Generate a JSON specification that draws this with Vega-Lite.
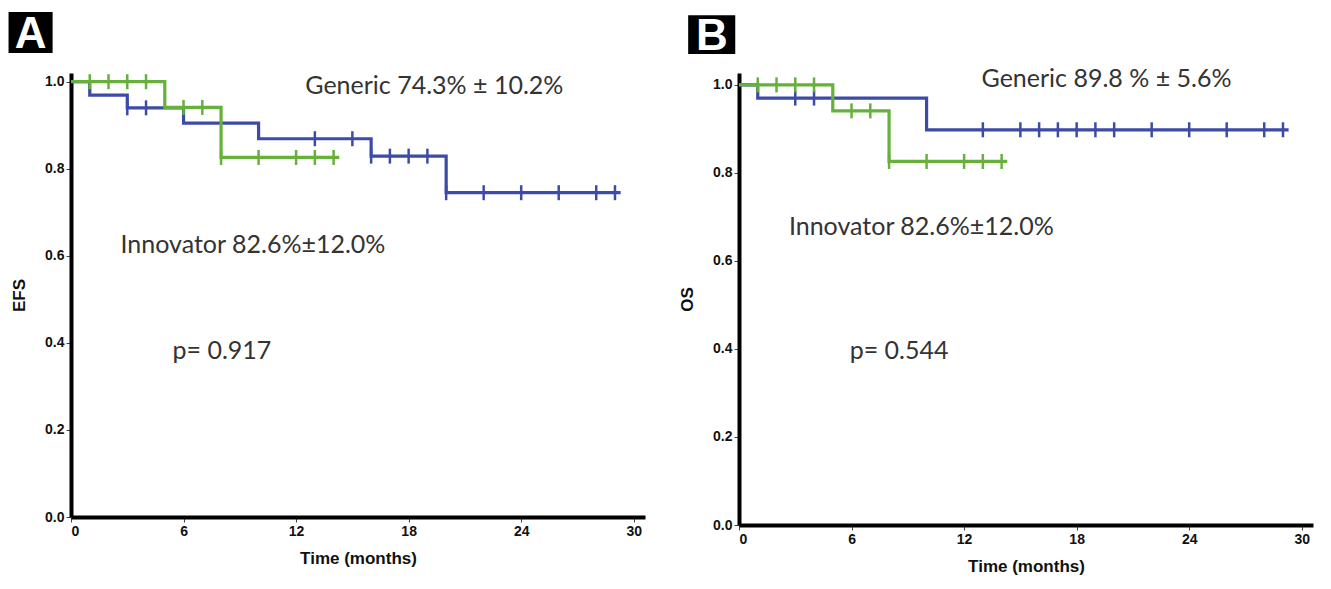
{
  "$schema": "https://vega.github.io/schema/vega-lite/v6.json",
  "background": "white",
  "padding": {"left": 8, "top": 12, "right": 5, "bottom": 5},
  "config": {
    "view": {"stroke": null},
    "font": "Liberation Sans",
    "axis": {"domainColor": "#000", "domainWidth": 4, "tickColor": "#444", "tickSize": 5, "tickWidth": 1, "labelFont": "Liberation Sans", "labelFontWeight": "bold", "labelFontSize": 14, "labelColor": "#111", "titleFont": "Liberation Sans", "titleFontWeight": "bold", "titleFontSize": 17, "titleColor": "#111", "grid": false},
    "concat": {"spacing": 33}
  },
  "datasets": {
    "km": [
      {"panel": "A", "group": "Generic", "kind": "step", "t": 0, "s": 1.0},
      {"panel": "A", "group": "Generic", "kind": "step", "t": 1, "s": 0.969},
      {"panel": "A", "group": "Generic", "kind": "step", "t": 3, "s": 0.94},
      {"panel": "A", "group": "Generic", "kind": "step", "t": 6, "s": 0.905},
      {"panel": "A", "group": "Generic", "kind": "step", "t": 10, "s": 0.869},
      {"panel": "A", "group": "Generic", "kind": "step", "t": 16, "s": 0.829},
      {"panel": "A", "group": "Generic", "kind": "step", "t": 20, "s": 0.745},
      {"panel": "A", "group": "Generic", "kind": "step", "t": 29.3, "s": 0.745},
      {"panel": "A", "group": "Generic", "kind": "censor", "t": 3, "s": 0.94},
      {"panel": "A", "group": "Generic", "kind": "censor", "t": 4, "s": 0.94},
      {"panel": "A", "group": "Generic", "kind": "censor", "t": 13, "s": 0.869},
      {"panel": "A", "group": "Generic", "kind": "censor", "t": 15, "s": 0.869},
      {"panel": "A", "group": "Generic", "kind": "censor", "t": 16, "s": 0.829},
      {"panel": "A", "group": "Generic", "kind": "censor", "t": 17, "s": 0.829},
      {"panel": "A", "group": "Generic", "kind": "censor", "t": 18, "s": 0.829},
      {"panel": "A", "group": "Generic", "kind": "censor", "t": 19, "s": 0.829},
      {"panel": "A", "group": "Generic", "kind": "censor", "t": 20, "s": 0.745},
      {"panel": "A", "group": "Generic", "kind": "censor", "t": 22, "s": 0.745},
      {"panel": "A", "group": "Generic", "kind": "censor", "t": 24, "s": 0.745},
      {"panel": "A", "group": "Generic", "kind": "censor", "t": 26, "s": 0.745},
      {"panel": "A", "group": "Generic", "kind": "censor", "t": 28, "s": 0.745},
      {"panel": "A", "group": "Generic", "kind": "censor", "t": 29, "s": 0.745},
      {"panel": "A", "group": "Innovator", "kind": "step", "t": 0, "s": 1.0},
      {"panel": "A", "group": "Innovator", "kind": "step", "t": 5, "s": 0.941},
      {"panel": "A", "group": "Innovator", "kind": "step", "t": 8, "s": 0.826},
      {"panel": "A", "group": "Innovator", "kind": "step", "t": 14.3, "s": 0.826},
      {"panel": "A", "group": "Innovator", "kind": "censor", "t": 1, "s": 1.0},
      {"panel": "A", "group": "Innovator", "kind": "censor", "t": 2, "s": 1.0},
      {"panel": "A", "group": "Innovator", "kind": "censor", "t": 3, "s": 1.0},
      {"panel": "A", "group": "Innovator", "kind": "censor", "t": 4, "s": 1.0},
      {"panel": "A", "group": "Innovator", "kind": "censor", "t": 6, "s": 0.941},
      {"panel": "A", "group": "Innovator", "kind": "censor", "t": 7, "s": 0.941},
      {"panel": "A", "group": "Innovator", "kind": "censor", "t": 8, "s": 0.826},
      {"panel": "A", "group": "Innovator", "kind": "censor", "t": 10, "s": 0.826},
      {"panel": "A", "group": "Innovator", "kind": "censor", "t": 12, "s": 0.826},
      {"panel": "A", "group": "Innovator", "kind": "censor", "t": 13, "s": 0.826},
      {"panel": "A", "group": "Innovator", "kind": "censor", "t": 14, "s": 0.826},
      {"panel": "B", "group": "Generic", "kind": "step", "t": 0, "s": 1.0},
      {"panel": "B", "group": "Generic", "kind": "step", "t": 1, "s": 0.97},
      {"panel": "B", "group": "Generic", "kind": "step", "t": 10, "s": 0.898},
      {"panel": "B", "group": "Generic", "kind": "step", "t": 29.3, "s": 0.898},
      {"panel": "B", "group": "Generic", "kind": "censor", "t": 3, "s": 0.97},
      {"panel": "B", "group": "Generic", "kind": "censor", "t": 4, "s": 0.97},
      {"panel": "B", "group": "Generic", "kind": "censor", "t": 13, "s": 0.898},
      {"panel": "B", "group": "Generic", "kind": "censor", "t": 15, "s": 0.898},
      {"panel": "B", "group": "Generic", "kind": "censor", "t": 16, "s": 0.898},
      {"panel": "B", "group": "Generic", "kind": "censor", "t": 17, "s": 0.898},
      {"panel": "B", "group": "Generic", "kind": "censor", "t": 18, "s": 0.898},
      {"panel": "B", "group": "Generic", "kind": "censor", "t": 19, "s": 0.898},
      {"panel": "B", "group": "Generic", "kind": "censor", "t": 20, "s": 0.898},
      {"panel": "B", "group": "Generic", "kind": "censor", "t": 22, "s": 0.898},
      {"panel": "B", "group": "Generic", "kind": "censor", "t": 24, "s": 0.898},
      {"panel": "B", "group": "Generic", "kind": "censor", "t": 26, "s": 0.898},
      {"panel": "B", "group": "Generic", "kind": "censor", "t": 28, "s": 0.898},
      {"panel": "B", "group": "Generic", "kind": "censor", "t": 29, "s": 0.898},
      {"panel": "B", "group": "Innovator", "kind": "step", "t": 0, "s": 1.0},
      {"panel": "B", "group": "Innovator", "kind": "step", "t": 5, "s": 0.941},
      {"panel": "B", "group": "Innovator", "kind": "step", "t": 8, "s": 0.826},
      {"panel": "B", "group": "Innovator", "kind": "step", "t": 14.3, "s": 0.826},
      {"panel": "B", "group": "Innovator", "kind": "censor", "t": 1, "s": 1.0},
      {"panel": "B", "group": "Innovator", "kind": "censor", "t": 2, "s": 1.0},
      {"panel": "B", "group": "Innovator", "kind": "censor", "t": 3, "s": 1.0},
      {"panel": "B", "group": "Innovator", "kind": "censor", "t": 4, "s": 1.0},
      {"panel": "B", "group": "Innovator", "kind": "censor", "t": 6, "s": 0.941},
      {"panel": "B", "group": "Innovator", "kind": "censor", "t": 7, "s": 0.941},
      {"panel": "B", "group": "Innovator", "kind": "censor", "t": 8, "s": 0.826},
      {"panel": "B", "group": "Innovator", "kind": "censor", "t": 10, "s": 0.826},
      {"panel": "B", "group": "Innovator", "kind": "censor", "t": 12, "s": 0.826},
      {"panel": "B", "group": "Innovator", "kind": "censor", "t": 13, "s": 0.826},
      {"panel": "B", "group": "Innovator", "kind": "censor", "t": 14, "s": 0.826}
    ],
    "notes": [
      {"panel": "A", "label": "Generic 74.3% ± 10.2%", "t": 12.49, "s": 0.99},
      {"panel": "A", "label": "Innovator 82.6%±12.0%", "t": 2.64, "s": 0.625},
      {"panel": "A", "label": "p= 0.917", "t": 5.41, "s": 0.382},
      {"panel": "B", "label": "Generic 89.8 % ± 5.6%", "t": 12.93, "s": 1.014},
      {"panel": "B", "label": "Innovator 82.6%±12.0%", "t": 2.66, "s": 0.677},
      {"panel": "B", "label": "p= 0.544", "t": 5.9, "s": 0.395}
    ],
    "letters": [
      {"panel": "A", "letter": "A", "t": -3.33, "t2": -0.98, "s": 1.16, "s2": 1.066, "tc": -2.15, "sc": 1.113},
      {"panel": "B", "letter": "B", "t": -2.71, "t2": -0.2, "s": 1.158, "s2": 1.07, "tc": -1.45, "sc": 1.114}
    ]
  },
  "hconcat": [
    {
      "width": 574,
      "height": 444,
      "encoding": {
        "x": {"field": "t", "type": "quantitative", "title": "Time (months)", "scale": {"domain": [0, 30.6], "nice": false, "zero": false}, "axis": {"values": [0, 6, 12, 18, 24, 30], "format": "d", "labelPadding": 2, "titlePadding": 12}},
        "y": {"field": "s", "type": "quantitative", "title": "EFS", "scale": {"domain": [0, 1.02], "nice": false, "zero": false}, "axis": {"values": [0, 0.2, 0.4, 0.6, 0.8, 1.0], "format": ".1f", "labelPadding": 2, "titlePadding": 16}}
      },
      "layer": [
        {"data": {"name": "letters"}, "transform": [{"filter": "datum.panel == 'A'"}], "mark": {"type": "rect", "color": "#000"}, "encoding": {"x2": {"field": "t2"}, "y2": {"field": "s2"}}},
        {"data": {"name": "letters"}, "transform": [{"filter": "datum.panel == 'A'"}], "mark": {"type": "text", "color": "#fff", "font": "Liberation Sans", "fontWeight": "bold", "fontSize": 44, "align": "center", "baseline": "middle", "dy": 2}, "encoding": {"x": {"field": "tc", "type": "quantitative", "title": "Time (months)"}, "y": {"field": "sc", "type": "quantitative", "title": "EFS"}, "text": {"field": "letter"}}},
        {"data": {"name": "km"}, "transform": [{"filter": "datum.panel == 'A' && datum.kind == 'step'"}], "mark": {"type": "line", "interpolate": "step-after", "strokeWidth": 3.2}, "encoding": {"color": {"field": "group", "type": "nominal", "scale": {"domain": ["Generic", "Innovator"], "range": ["#3d4ba8", "#66b03c"]}, "legend": null}}},
        {"data": {"name": "km"}, "transform": [{"filter": "datum.panel == 'A' && datum.kind == 'censor'"}], "mark": {"type": "tick", "orient": "vertical", "size": 15, "thickness": 2.5, "opacity": 1}, "encoding": {"color": {"field": "group", "type": "nominal", "scale": {"domain": ["Generic", "Innovator"], "range": ["#3d4ba8", "#66b03c"]}, "legend": null}}},
        {"data": {"name": "notes"}, "transform": [{"filter": "datum.panel == 'A'"}], "mark": {"type": "text", "font": "Lato", "fontSize": 25, "color": "#333", "align": "left", "baseline": "middle"}, "encoding": {"text": {"field": "label"}}}
      ]
    },
    {
      "width": 574,
      "height": 452,
      "encoding": {
        "x": {"field": "t", "type": "quantitative", "title": "Time (months)", "scale": {"domain": [0, 30.6], "nice": false, "zero": false}, "axis": {"values": [0, 6, 12, 18, 24, 30], "format": "d", "labelPadding": 2, "titlePadding": 12}},
        "y": {"field": "s", "type": "quantitative", "title": "OS", "scale": {"domain": [0, 1.027], "nice": false, "zero": false}, "axis": {"values": [0, 0.2, 0.4, 0.6, 0.8, 1.0], "format": ".1f", "labelPadding": 2, "titlePadding": 16}}
      },
      "layer": [
        {"data": {"name": "letters"}, "transform": [{"filter": "datum.panel == 'B'"}], "mark": {"type": "rect", "color": "#000"}, "encoding": {"x2": {"field": "t2"}, "y2": {"field": "s2"}}},
        {"data": {"name": "letters"}, "transform": [{"filter": "datum.panel == 'B'"}], "mark": {"type": "text", "color": "#fff", "font": "Liberation Sans", "fontWeight": "bold", "fontSize": 44, "align": "center", "baseline": "middle", "dy": 2}, "encoding": {"x": {"field": "tc", "type": "quantitative", "title": "Time (months)"}, "y": {"field": "sc", "type": "quantitative", "title": "OS"}, "text": {"field": "letter"}}},
        {"data": {"name": "km"}, "transform": [{"filter": "datum.panel == 'B' && datum.kind == 'step'"}], "mark": {"type": "line", "interpolate": "step-after", "strokeWidth": 3.2}, "encoding": {"color": {"field": "group", "type": "nominal", "scale": {"domain": ["Generic", "Innovator"], "range": ["#3d4ba8", "#66b03c"]}, "legend": null}}},
        {"data": {"name": "km"}, "transform": [{"filter": "datum.panel == 'B' && datum.kind == 'censor'"}], "mark": {"type": "tick", "orient": "vertical", "size": 15, "thickness": 2.5, "opacity": 1}, "encoding": {"color": {"field": "group", "type": "nominal", "scale": {"domain": ["Generic", "Innovator"], "range": ["#3d4ba8", "#66b03c"]}, "legend": null}}},
        {"data": {"name": "notes"}, "transform": [{"filter": "datum.panel == 'B'"}], "mark": {"type": "text", "font": "Lato", "fontSize": 25, "color": "#333", "align": "left", "baseline": "middle"}, "encoding": {"text": {"field": "label"}}}
      ]
    }
  ]
}
